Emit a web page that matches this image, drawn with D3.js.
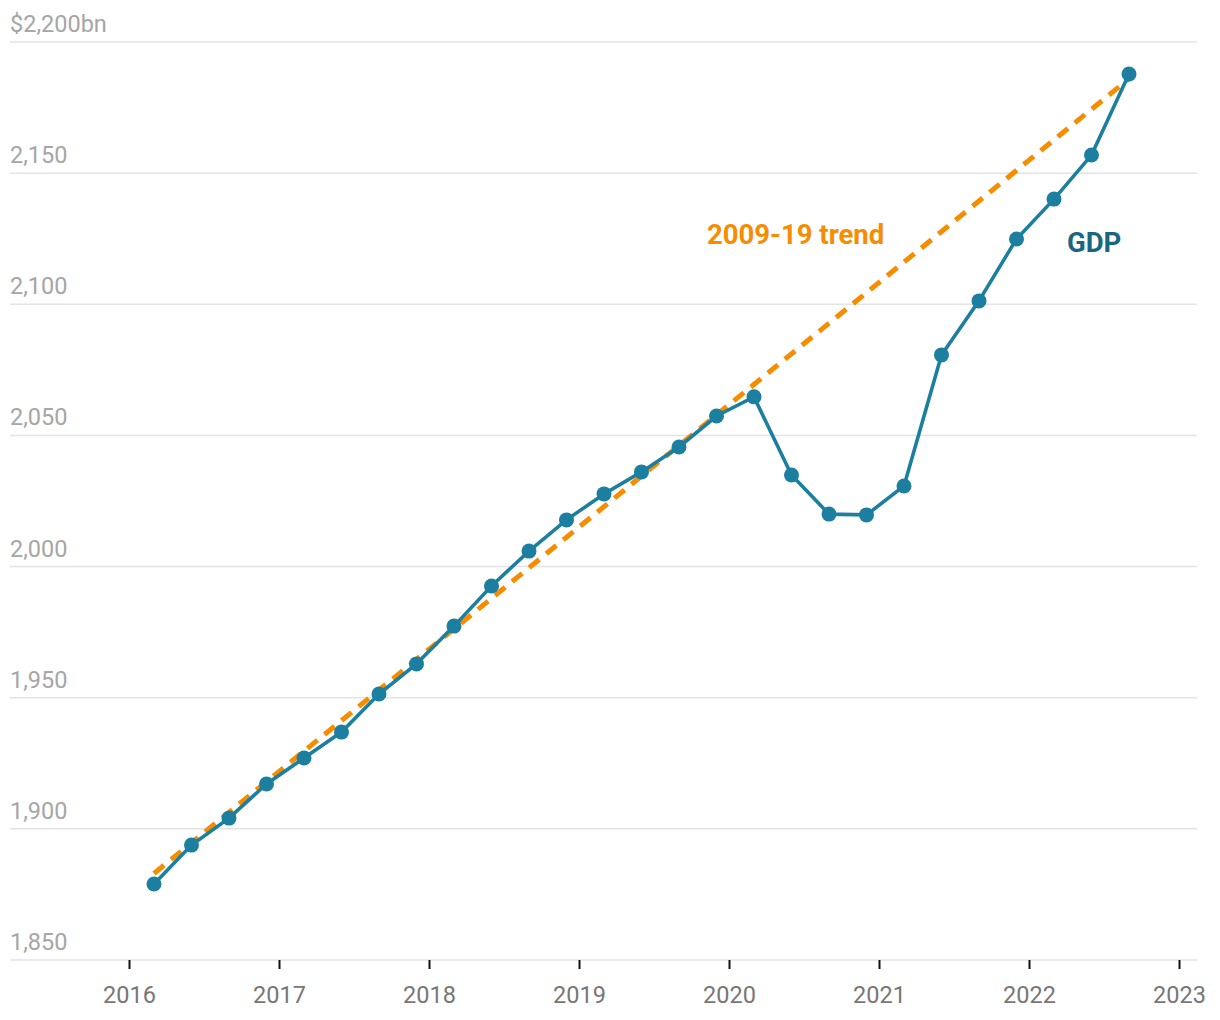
<!DOCTYPE html>
<html><head><meta charset="utf-8">
<script src="https://cdn.jsdelivr.net/npm/d3@7"></script>
<style>body{margin:0;background:#fff;font-family:Roboto,sans-serif}</style>
</head><body><svg id="c" width="1220" height="1020"></svg>
<script>
const quarters = ["2016Q1","2016Q2","2016Q3","2016Q4","2017Q1","2017Q2","2017Q3","2017Q4","2018Q1","2018Q2","2018Q3","2018Q4","2019Q1","2019Q2","2019Q3","2019Q4","2020Q1","2020Q2","2020Q3","2020Q4","2021Q1","2021Q2","2021Q3","2021Q4","2022Q1","2022Q2","2022Q3"];
const gdp = [1879,1893.8,1904.1,1917.1,1927,1936.9,1951.4,1962.9,1977.3,1992.6,2005.9,2017.8,2027.7,2036.1,2045.6,2057.4,2064.7,2034.9,2020,2019.7,2030.7,2080.7,2101.3,2124.9,2140.1,2156.9,2187.8];
const trendQuarters = ["2016Q1","2022Q3"];
const trendValues = [1883,2186];
const yTicks = [1850,1900,1950,2000,2050,2100,2150,2200];
const xTicks = [2016,2017,2018,2019,2020,2021,2022,2023];

const svg = d3.select("#c");
const qToNum = q => +q.slice(0,4) + (+q.slice(5)-1)*0.25 + 1/6;
const x = d3.scaleLinear().domain([2016,2023]).range([129,1179]);
const y = d3.scaleLinear().domain([1850,2200]).range([960,42]);

// gridlines
svg.append("g").selectAll("line").data(yTicks).join("line")
  .attr("x1",10).attr("x2",1197).attr("y1",d=>y(d)).attr("y2",d=>y(d))
  .attr("stroke","#e3e3e3").attr("stroke-width",1.5);
svg.append("g").selectAll("text").data(yTicks).join("text")
  .attr("x",10).attr("y",d=>y(d)-10)
  .attr("font-size",23.5).attr("fill","#a6a6a6")
  .text(d=> d===2200 ? "$2,200bn" : d3.format(",")(d));

// x axis ticks
const xa = d3.axisBottom(x).tickValues(xTicks).tickFormat(d3.format("d")).tickSize(9).tickPadding(17);
const gx = svg.append("g").attr("transform",`translate(0,${y(1850)})`).call(xa);
gx.select(".domain").remove();
gx.selectAll(".tick line").attr("stroke","#111").attr("stroke-width",2);
gx.selectAll(".tick text").attr("font-size",23.5).attr("fill","#777").attr("font-family","Roboto,sans-serif");

// trend
const line = d3.line().x(d=>x(qToNum(d[0]))).y(d=>y(d[1]));
svg.append("path").datum(trendQuarters.map((q,i)=>[q,trendValues[i]]))
  .attr("d",line).attr("fill","none").attr("stroke","#f68d00")
  .attr("stroke-width",5).attr("stroke-dasharray","13,9");

// gdp
const gdata = quarters.map((q,i)=>[q,gdp[i]]);
svg.append("path").datum(gdata).attr("d",line).attr("fill","none")
  .attr("stroke","#1d7f9f").attr("stroke-width",3.6);
svg.append("g").selectAll("circle").data(gdata).join("circle")
  .attr("cx",d=>x(qToNum(d[0]))).attr("cy",d=>y(d[1])).attr("r",7.5)
  .attr("fill","#1d7f9f");

// labels
svg.append("text").attr("x",707).attr("y",244).attr("font-size",27.5).attr("font-weight","bold")
  .attr("fill","#f68d00").text("2009-19 trend");
svg.append("text").attr("x",1067).attr("y",252).attr("font-size",27.5).attr("font-weight","bold")
  .attr("fill","#1a6580").text("GDP");
</script></body></html>
